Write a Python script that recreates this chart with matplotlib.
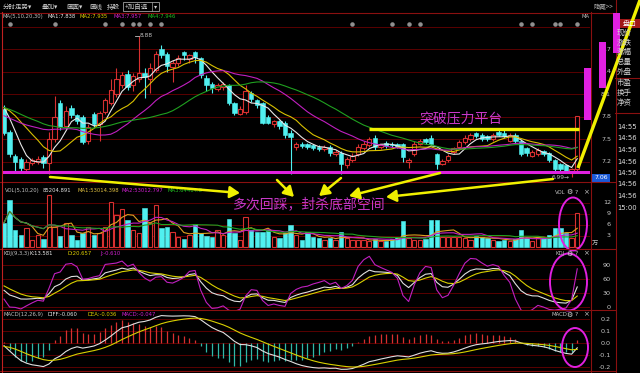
import numpy as np
import pandas as pd
import matplotlib
matplotlib.use('Agg')
import matplotlib.pyplot as plt
from matplotlib.patches import Rectangle, Ellipse
from matplotlib import transforms

plt.rcParams['font.family'] = ['Noto Sans CJK SC', 'DejaVu Sans']

# ---------------- data ----------------
prior_closes = [8.05, 8.12, 8.18, 8.22, 8.15, 8.10, 8.16, 8.20, 8.12, 8.10,
                7.95, 7.85, 7.78, 7.70, 7.62, 7.60, 7.58, 7.62, 7.65, 7.65,
                7.75, 7.85, 7.95, 8.00, 8.05, 8.02, 8.06, 8.00, 7.94]

opens = [7.90, 7.60, 7.27, 7.24, 7.10, 7.18, 7.20, 7.26, 7.18, 7.50,
         7.98, 7.68, 7.92, 7.82, 7.80, 7.48, 7.84, 7.70, 7.86, 7.98,
         8.10, 8.22, 8.37, 8.22, 8.30, 8.38, 8.30, 8.42, 8.70, 8.64,
         8.46, 8.52, 8.66, 8.57, 8.66, 8.58, 8.32, 8.24, 8.17, 8.20,
         8.22, 7.98, 7.84, 7.86, 8.12, 8.02, 7.98, 7.80, 7.70, 7.74,
         7.72, 7.58, 7.40, 7.44, 7.43, 7.42, 7.40, 7.37, 7.40, 7.30,
         7.32, 7.16, 7.22, 7.30, 7.38, 7.42, 7.52, 7.39, 7.45, 7.44,
         7.43, 7.43, 7.20, 7.30, 7.44, 7.50, 7.52, 7.30, 7.17, 7.22,
         7.33, 7.40, 7.46, 7.50, 7.58, 7.56, 7.54, 7.50, 7.60, 7.58,
         7.48, 7.56, 7.48, 7.38, 7.28, 7.30, 7.34, 7.31, 7.22, 7.17,
         7.15, 7.06, 7.10]
closes = [7.58, 7.30, 7.20, 7.12, 7.20, 7.22, 7.24, 7.18, 7.50, 7.80,
          7.66, 7.88, 7.82, 7.74, 7.46, 7.66, 7.70, 7.85, 8.02, 8.15,
          8.30, 8.36, 8.20, 8.34, 8.38, 8.33, 8.45, 8.63, 8.62, 8.48,
          8.52, 8.58, 8.62, 8.62, 8.60, 8.36, 8.22, 8.18, 8.22, 8.23,
          7.98, 7.85, 7.90, 8.14, 8.03, 7.95, 7.72, 7.72, 7.74, 7.68,
          7.56, 7.53, 7.43, 7.41, 7.40, 7.38, 7.37, 7.40, 7.31, 7.33,
          7.17, 7.24, 7.28, 7.40, 7.44, 7.50, 7.39, 7.42, 7.41, 7.42,
          7.40, 7.26, 7.22, 7.44, 7.48, 7.46, 7.44, 7.17, 7.21, 7.28,
          7.38, 7.46, 7.52, 7.55, 7.54, 7.50, 7.50, 7.55, 7.56, 7.54,
          7.55, 7.48, 7.30, 7.32, 7.33, 7.35, 7.30, 7.22, 7.10, 7.10,
          7.08, 7.10, 7.81]
highs = [7.95, 7.62, 7.30, 7.26, 7.24, 7.25, 7.28, 7.29, 7.60, 8.07,
         8.02, 7.94, 7.95, 7.84, 7.82, 7.70, 7.86, 7.88, 8.05, 8.30,
         8.45, 8.40, 8.42, 8.38, 8.88, 8.45, 8.52, 8.68, 8.76, 8.66,
         8.55, 8.62, 8.68, 8.64, 8.68, 8.60, 8.35, 8.26, 8.25, 8.26,
         8.24, 8.00, 7.94, 8.22, 8.14, 8.04, 8.00, 7.82, 7.76, 7.76,
         7.74, 7.62, 7.46, 7.46, 7.45, 7.44, 7.42, 7.42, 7.42, 7.35,
         7.34, 7.26, 7.31, 7.43, 7.48, 7.53, 7.55, 7.44, 7.47, 7.46,
         7.45, 7.45, 7.25, 7.47, 7.50, 7.52, 7.55, 7.32, 7.24, 7.30,
         7.40, 7.49, 7.55, 7.58, 7.60, 7.58, 7.56, 7.58, 7.62, 7.65,
         7.58, 7.58, 7.50, 7.40, 7.36, 7.38, 7.36, 7.33, 7.24, 7.18,
         7.16, 7.12, 7.81]
lows = [7.55, 7.26, 7.08, 7.05, 7.06, 7.15, 7.17, 7.12, 7.04, 7.46,
        7.62, 7.64, 7.78, 7.70, 7.44, 7.43, 7.66, 7.48, 7.84, 7.95,
        8.06, 8.18, 8.16, 8.14, 8.26, 8.05, 8.12, 8.40, 8.58, 8.40,
        8.26, 8.48, 8.56, 8.52, 8.52, 8.32, 8.14, 8.12, 8.14, 8.16,
        7.96, 7.82, 7.82, 7.84, 8.00, 7.92, 7.70, 7.70, 7.66, 7.64,
        7.52, 7.04, 7.36, 7.38, 7.37, 7.35, 7.34, 7.34, 7.28, 7.27,
        7.04, 7.12, 7.20, 7.28, 7.36, 7.40, 7.36, 7.37, 7.38, 7.39,
        7.38, 7.20, 7.12, 7.28, 7.42, 7.44, 7.42, 7.10, 7.15, 7.20,
        7.30, 7.38, 7.44, 7.48, 7.52, 7.48, 7.47, 7.48, 7.54, 7.52,
        7.46, 7.45, 7.28, 7.28, 7.26, 7.28, 7.27, 7.20, 7.08, 7.07,
        7.05, 6.99, 7.08]
volumes = [6.6, 12.8, 4.6, 3.3, 5.3, 1.9, 3.3, 2.1, 14.2, 5.5,
           3.0, 6.5, 3.3, 1.9, 3.9, 5.5, 3.3, 3.7, 5.5, 12.2,
           8.7, 10.3, 7.4, 4.6, 3.7, 10.5, 6.5, 11.3, 5.1, 5.4,
           4.2, 2.8, 2.2, 3.3, 6.3, 3.7, 3.1, 2.8, 4.6, 3.3,
           7.5, 3.9, 1.9, 8.3, 4.6, 4.0, 4.2, 4.5, 2.8, 2.4,
           3.9, 6.0, 3.3, 1.9, 4.2, 2.8, 2.4, 1.9, 2.4, 1.9,
           4.2, 2.4, 1.9, 1.9, 1.9, 1.5, 2.2, 1.5, 1.6, 2.2,
           2.8, 7.1, 2.4, 1.9, 1.9, 2.1, 7.4, 7.4, 2.8, 2.8,
           2.8, 2.8, 2.4, 1.9, 3.1, 2.6, 2.4, 1.9, 1.7, 1.9,
           1.7, 2.1, 4.5, 2.5, 1.5, 2.4, 2.4, 3.3, 5.1, 5.1,
           3.7, 2.4, 9.2]
event_idx = [1, 9, 18, 21, 23, 24, 26, 28, 62, 69, 72, 74, 92, 94, 98, 99, 102]

price_ticks = [8.7, 8.4, 8.1, 7.8, 7.5, 7.2]
vol_ticks = [12, 9, 6, 3]
kdj_ticks = [90, 60, 30, 0]
macd_ticks = [0.2, 0.1, 0.0, -0.1, -0.2]
cursor_price = 7.06
platform_price = 7.63
platform_start = 65

info_labels = ['现价', '涨跌', '涨幅', '总量', '外盘', '市盈', '换手', '净资']
tick_times = ['14:55', '14:56', '14:56', '14:56', '14:56', '14:56', '14:56', '15:00']

# ---------------- indicators ----------------
n = len(closes)
idx = np.arange(n)
o = np.array(opens); c = np.array(closes); h = np.array(highs); l = np.array(lows)
v = np.array(volumes)
allc = pd.Series(prior_closes + closes)
np_ = len(prior_closes)
ma = {k: allc.rolling(k, min_periods=1).mean().values[np_:] for k in (5, 10, 20, 30)}
vs = pd.Series(volumes)
vma = {k: vs.rolling(k, min_periods=1).mean().values for k in (5, 10, 20)}
llv = pd.Series(lows).rolling(9, min_periods=1).min().values
hhv = pd.Series(highs).rolling(9, min_periods=1).max().values
rsv = (c - llv) / (hhv - llv) * 100
K = np.zeros(n); D = np.zeros(n)
pk, pd_ = 50.0, 50.0
for i in range(n):
    pk = 2 / 3 * pk + rsv[i] / 3
    pd_ = 2 / 3 * pd_ + pk / 3
    K[i] = pk; D[i] = pd_
J = 3 * K - 2 * D
e12 = allc.ewm(span=12, adjust=False).mean()
e26 = allc.ewm(span=26, adjust=False).mean()
diff = (e12 - e26)
dea = diff.ewm(span=9, adjust=False).mean()
diff = diff.values[np_:]; dea = dea.values[np_:]
hist = 2 * (diff - dea)

# ---------------- figure ----------------
W, H = 640, 373
fig = plt.figure(figsize=(6.4, 3.73), dpi=100, facecolor='black')

def rect(x0, y0, x1, y1):
    return [x0 / W, 1 - y1 / H, (x1 - x0) / W, (y1 - y0) / H]

UP = '#d83030'
DN = '#50f0f0'
GRID = '#5a0000'
FRAME = '#8a1010'
TXT = '#c8c8c8'
MAG = '#e020e0'
YEL = '#f0f000'
sp = 5.62
xl = (-2 / sp, (590 - 4) / sp)

def mkax(y0, y1, ylim):
    ax = fig.add_axes(rect(2, y0, 590, y1))
    ax.set_facecolor('black')
    ax.set_xlim(*xl); ax.set_ylim(*ylim)
    ax.set_xticks([]); ax.set_yticks([])
    for s in ax.spines.values():
        s.set_visible(False)
    return ax

axp = mkax(13, 182, (6.927, 9.18))
axv = mkax(182, 249, (-0.55, 17.7))
axk = mkax(249, 310, (-6.4, 124.3))
axm = mkax(310, 371, (-0.233, 0.275))

def right_labels(ax, ticks, fmt, grid=True):
    tr = transforms.blended_transform_factory(fig.transFigure, ax.transData)
    for t in ticks:
        if grid:
            ax.axhline(t, color=GRID, lw=0.7, zorder=0)
        ax.text(611 / W, t, fmt(t), transform=tr, color=TXT, fontsize=4.6,
                ha='right', va='center', family='DejaVu Sans', zorder=5)

# price panel
for g in [9.0]:
    axp.axhline(g, color=GRID, lw=0.7, zorder=0)
right_labels(axp, price_ticks, lambda t: f'{t:.1f}')
bw = 0.78
for i in range(n):
    if c[i] >= o[i]:
        axp.vlines(i, max(o[i], c[i]), h[i], color=UP, lw=0.8, zorder=2)
        axp.vlines(i, l[i], min(o[i], c[i]), color=UP, lw=0.8, zorder=2)
        axp.add_patch(Rectangle((i - bw / 2, o[i]), bw, max(c[i] - o[i], 0.004),
                                facecolor='black', edgecolor=UP, lw=0.8, zorder=3))
    else:
        axp.vlines(i, l[i], h[i], color=DN, lw=0.8, zorder=2)
        axp.add_patch(Rectangle((i - bw / 2, c[i]), bw, o[i] - c[i],
                                facecolor=DN, edgecolor=DN, lw=0.4, zorder=3))
for k, col in zip((5, 10, 20, 30), ('#e8e8e8', '#d8c000', '#c020c0', '#20a020')):
    axp.plot(idx, ma[k], color=col, lw=0.8, zorder=4)
axp.axhline(cursor_price, color=MAG, lw=2.2, zorder=6)
axp.hlines(platform_price, platform_start, n - 0.6, color=YEL, lw=2.4, zorder=6)
axp.scatter(event_idx, [9.04] * len(event_idx), s=5, color='#909090', zorder=5)

# volume panel
right_labels(axv, vol_ticks, lambda t: f'{t:d}')
for i in range(n):
    if c[i] >= o[i]:
        axv.add_patch(Rectangle((i - bw / 2, 0), bw, v[i], facecolor='black',
                                edgecolor=UP, lw=0.8, zorder=2))
    else:
        axv.add_patch(Rectangle((i - bw / 2, 0), bw, v[i], facecolor=DN,
                                edgecolor=DN, lw=0.4, zorder=2))
for k, col in zip((5, 10, 20), ('#e0a020', '#c020c0', '#20a020')):
    axv.plot(idx, vma[k], color=col, lw=0.8, zorder=4)

# KDJ panel
right_labels(axk, kdj_ticks, lambda t: f'{t:d}')
axk.plot(idx, K, color='#e0e0e0', lw=0.8)
axk.plot(idx, D, color='#d8d000', lw=0.8)
axk.plot(idx, J, color='#c020c0', lw=0.8)

# MACD panel
right_labels(axm, macd_ticks, lambda t: f'{t:.1f}')
axm.vlines(idx, 0, hist, colors=[UP if x >= 0 else '#30b8a8' for x in hist], lw=0.9)
axm.plot(idx, diff, color='#e0e0e0', lw=0.8)
axm.plot(idx, dea, color='#d8d000', lw=0.8)

# ---------------- overlay (pixel coords) ----------------
ov = fig.add_axes([0, 0, 1, 1], zorder=20)
ov.set_xlim(0, W); ov.set_ylim(H, 0); ov.axis('off'); ov.patch.set_alpha(0)

def hl(y, x0, x1, col=FRAME, lw=0.8):
    ov.plot([x0, x1], [y, y], color=col, lw=lw)

def vl(x, y0, y1, col=FRAME, lw=0.8):
    ov.plot([x, x], [y0, y1], color=col, lw=lw)

hl(12.5, 0, 615); hl(182, 0, 615); hl(249, 0, 615); hl(310, 0, 615); hl(371, 0, 615)
vl(1.5, 12, 373, col='#c02020', lw=0.8)
vl(590.5, 12, 373); vl(615.5, 0, 373)

# toolbar
tb = [('分时走势▾', 3), ('叠加▾', 42), ('画面▾', 66), ('画线', 89), ('持股', 107), ('+加自选', 125)]
for s, x in tb:
    ov.text(x, 6.5, s, color='#d0d0d0', fontsize=4.7, va='center', ha='left')
ov.add_patch(Rectangle((123, 2), 36, 9, fill=False, edgecolor='#a0a0a0', lw=0.6))
vl(152, 2, 11, col='#a0a0a0', lw=0.5)
ov.text(153.5, 6.5, '▾', color='#d0d0d0', fontsize=4.5, va='center', family='DejaVu Sans')
ov.text(593, 6.5, '隐藏>>', color='#b0b0b0', fontsize=4.6, va='center')

def pieces(y, items):
    for s, x, col in items:
        ov.text(x, y, s, color=col, fontsize=3.8, va='center', ha='left', family='DejaVu Sans')

pieces(16.5, [('MA(5,10,20,30)', 2.5, '#c0c0c0'), ('MA1:7.838', 47, '#e8e8e8'),
              ('MA2:7.935', 80, '#e0d000'), ('MA3:7.957', 113, '#d020d0'),
              ('MA4:7.946', 147, '#20c020')])
pieces(190.5, [('VOL(5,10,20)', 5, '#c0c0c0'), ('85204.891', 43, '#e0e0e0'),
               ('MA1:53014.398', 77, '#e0c040'), ('MA2:53012.797', 122, '#d020d0'),
               ('MA3:64464.8', 167, '#20c020')])
pieces(253.5, [('KDJ(9,3,3)', 3, '#c0c0c0'), ('K:13.581', 30, '#e8e8e8'),
               ('D:20.657', 68, '#e0d000'), ('J:-0.610', 100, '#d020d0')])
pieces(314.5, [('MACD(12,26,9)', 3, '#c0c0c0'), ('DIFF:-0.060', 47, '#e8e8e8'),
               ('DEA:-0.036', 87, '#e0d000'), ('MACD:-0.047', 122, '#d020d0')])
ov.text(582, 16, 'MA', color='#c0c0c0', fontsize=3.8, va='center', family='DejaVu Sans')
for name, x, y in [('VOL', 555, 192), ('KDJ', 555, 253.5), ('MACD', 551, 314.5)]:
    ov.text(x, y, name, color='#c0c0c0', fontsize=3.9, va='center', family='DejaVu Sans')
    ov.text(566.5, y, '⚙', color='#e0e0e0', fontsize=5, va='center', family='DejaVu Sans')
    ov.text(575, y, '?', color='#c0c0c0', fontsize=4.5, va='center', family='DejaVu Sans')
    ov.text(583, y, '×', color='#c0c0c0', fontsize=5, va='center', family='DejaVu Sans')
ov.text(592, 243, '万', color='#c0c0c0', fontsize=4.5, va='center')

# labels in price panel
ov.plot([135, 139], [35.5, 35.5], color='#c0c0c0', lw=0.6)
ov.text(140, 35.5, '8.88', color='#c0c0c0', fontsize=4.2, va='center', family='DejaVu Sans')
ov.text(552, 177.5, '6.99→', color='#c0c0c0', fontsize=4.2, va='center', family='DejaVu Sans')
ov.add_patch(Rectangle((592, 173.5), 18, 8, facecolor='#1a5ad8', edgecolor='none'))
ov.text(601, 177.5, '7.06', color='white', fontsize=4.4, va='center', ha='center', family='DejaVu Sans')

# annotations
ov.text(461, 118, '突破压力平台', color='#c838c8', fontsize=10, ha='center', va='center')
ov.text(309, 204, '多次回踩，封杀底部空间', color='#c838c8', fontsize=10, ha='center', va='center')
arrows = [((50, 177), (240, 193)), ((277, 180), (294, 197)), ((341, 178), (319, 196)),
          ((440, 173), (349, 196)), ((553, 179), (386, 197))]
for s, e in arrows:
    ov.annotate('', xy=e, xytext=s,
                arrowprops=dict(arrowstyle='-|>,head_length=0.6,head_width=0.35',
                                color=YEL, lw=1.8, shrinkA=0, shrinkB=0))
ov.plot([578, 640], [168, 0], color=YEL, lw=2.4, solid_capstyle='butt')
for x0, y0, x1, y1 in [(584, 68, 591, 120), (599, 42, 606, 88), (613, 13, 620, 53)]:
    ov.add_patch(Rectangle((x0, y0), x1 - x0, y1 - y0, facecolor=MAG, edgecolor='none', zorder=3))
for cx, cy, w, hh in [(573, 224, 28, 53), (568.5, 282, 37, 57), (575, 347.5, 26, 39)]:
    ov.add_patch(Ellipse((cx, cy), w, hh, fill=False, edgecolor=MAG, lw=1.4))

# right info panel
ov.add_patch(Rectangle((620, 19), 20, 9, facecolor='#a01818', edgecolor='none'))
ov.text(623, 23.5, '盘口', color='white', fontsize=5, va='center')
for s, y in zip(info_labels, [33, 43, 52, 62, 72, 83, 93, 103]):
    ov.text(617, y, s, color='#d0d0d0', fontsize=5.4, va='center')
hl(78, 615, 640); hl(113, 615, 640)
for s, y in zip(tick_times, [127, 138.5, 150, 161.5, 173, 184.5, 196, 207.5]):
    ov.text(617, y, s, color='#e0e0e0', fontsize=4.9, va='center', family='DejaVu Sans')

fig.savefig('out.png', dpi=100, facecolor='black')
